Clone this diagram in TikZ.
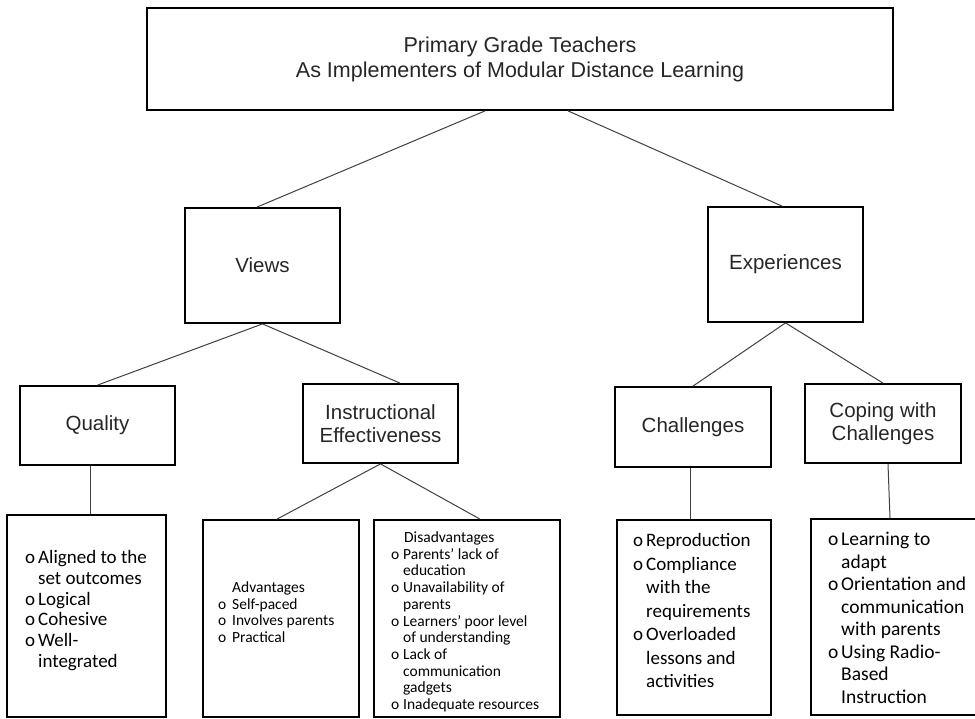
\documentclass[tikz,border=0pt]{standalone}
\usepackage{fontspec}
\setmainfont{Liberation Sans}
\newfontfamily\calfont{Carlito}
\newcommand\bul[1]{\makebox[#1][l]{o}}
\newcommand\ind[1]{\hspace*{#1}}
\begin{document}
\begin{tikzpicture}[x=1pt,y=-1pt,
  box/.style={draw=black, line width=1.8pt, inner sep=0pt, align=center, text=black!85},
  midbox/.style={box, minimum width=155pt, minimum height=79pt, font=\fontsize{20.5}{23}\selectfont},
  listbox/.style={draw=black, line width=1.8pt, inner sep=0pt},
  link/.style={draw=black!75, line width=1pt},
  lst/.style={anchor=north west, inner sep=0pt, text=black, align=left}]
\useasboundingbox (0,0) rectangle (975,718);

% top level
\node[box, minimum width=746pt, minimum height=102pt, font=\fontsize{21.5}{25}\selectfont] (top) at (520,59)
  {Primary Grade Teachers\\As Implementers of Modular Distance Learning};

% second level
\node[midbox, minimum height=115pt] (views) at (262.5,265.5) {Views};
\node[midbox, minimum height=115pt] (exp) at (785.5,264.5) {Experiences};

% third level
\node[midbox] (quality) at (97.5,425.5) {Quality};
\node[midbox] (ie) at (380.5,423.5) {Instructional\\Effectiveness};
\node[midbox, minimum width=156pt, minimum height=80pt] (chal) at (693,427) {Challenges};
\node[midbox, minimum width=156pt] (coping) at (883,423.5) {Coping with\\Challenges};

% bottom boxes
\node[listbox, minimum width=159pt, minimum height=202pt] (qlist) at (86.5,616) {};
\node[listbox, minimum width=156pt, minimum height=197pt] (adv) at (281,618.5) {};
\node[listbox, minimum width=186pt, minimum height=197pt] (dis) at (467,618.5) {};
\node[listbox, minimum width=154pt, minimum height=195pt] (clist) at (694,617.5) {};
\node[listbox, minimum width=166pt, minimum height=196pt] (colist) at (894,617) {};

% list texts
\node[lst, font=\calfont\fontsize{19}{20.7}\selectfont] (qtext) at (25,549.2) {%
  \begin{tabular}{@{}l@{}}
  \bul{13pt}Aligned to the\\
  \ind{13pt}set outcomes\\
  \bul{13pt}Logical\\
  \bul{13pt}Cohesive\\
  \bul{13pt}Well-\\
  \ind{13pt}integrated
  \end{tabular}};

\node[lst, font=\calfont\fontsize{15.5}{16.7}\selectfont] (advtext) at (218,580.7) {%
  \begin{tabular}{@{}l@{}}
  \ind{14pt}Advantages\\
  \bul{14pt}Self-paced\\
  \bul{14pt}Involves parents\\
  \bul{14pt}Practical
  \end{tabular}};

\node[lst, font=\calfont\fontsize{15.5}{16.7}\selectfont] (distext) at (391,530.7) {%
  \begin{tabular}{@{}l@{}}
  \ind{13pt}Disadvantages\\
  \bul{12pt}Parents’ lack of\\
  \ind{12pt}education\\
  \bul{12pt}Unavailability of\\
  \ind{12pt}parents\\
  \bul{12pt}Learners’ poor level\\
  \ind{12pt}of understanding\\
  \bul{12pt}Lack of\\
  \ind{12pt}communication\\
  \ind{12pt}gadgets\\
  \bul{12pt}Inadequate resources
  \end{tabular}};

\node[lst, font=\calfont\fontsize{19}{23.5}\selectfont] (ctext) at (633,530.2) {%
  \begin{tabular}{@{}l@{}}
  \bul{13pt}Reproduction\\
  \bul{13pt}Compliance\\
  \ind{13pt}with the\\
  \ind{13pt}requirements\\
  \bul{13pt}Overloaded\\
  \ind{13pt}lessons and\\
  \ind{13pt}activities
  \end{tabular}};

\node[lst, font=\calfont\fontsize{19.5}{22.5}\selectfont] (cotext) at (828,530) {%
  \begin{tabular}{@{}l@{}}
  \bul{13pt}Learning to\\
  \ind{13pt}adapt\\
  \bul{13pt}Orientation and\\
  \ind{13pt}communication\\
  \ind{13pt}with parents\\
  \bul{13pt}Using Radio-\\
  \ind{13pt}Based\\
  \ind{13pt}Instruction
  \end{tabular}};

% connectors
\draw[link] ([xshift=-35pt]top.south) -- ([xshift=-5.5pt]views.north);
\draw[link] ([xshift=48pt]top.south) -- ([xshift=-3.5pt]exp.north);
\draw[link] (views.south) -- (quality.north);
\draw[link] (views.south) -- ([xshift=19.5pt]ie.north);
\draw[link] (exp.south) -- (chal.north);
\draw[link] (exp.south) -- (coping.north);
\draw[link] ([xshift=-7.5pt]quality.south) -- ([xshift=-7.5pt]quality.south |- qlist.north);
\draw[link] (ie.south) -- ([xshift=-4pt]adv.north);
\draw[link] (ie.south) -- ([xshift=13pt]dis.north);
\draw[link] ([xshift=-3pt]chal.south) -- ([xshift=-3pt]chal.south |- clist.north);
\draw[link] ([xshift=5pt]coping.south) -- ([xshift=-4pt]colist.north);
\end{tikzpicture}
\end{document}
